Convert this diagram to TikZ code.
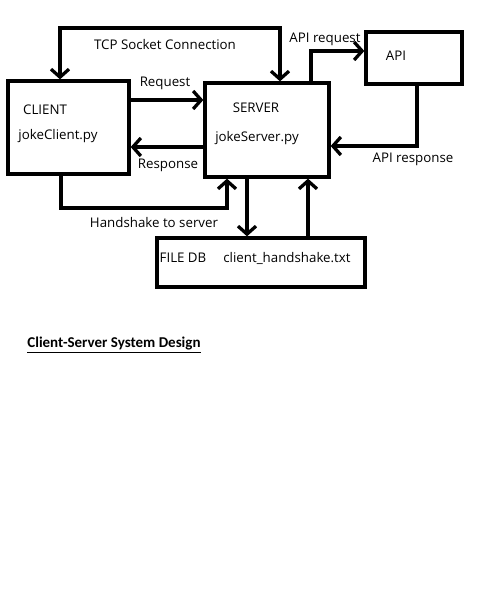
\documentclass[tikz,border=0pt]{standalone}
\usepackage{fontspec}
\setmainfont{Open Sans}
\newfontfamily\titlefont{Carlito}
\usetikzlibrary{arrows.meta}
\tikzset{
  box/.style={draw, line width=3.3pt, inner sep=0pt, rectangle},
  lbl/.style={inner sep=0pt, yshift=-1pt, font=\fontsize{13.3}{15}\selectfont},
  tip/.tip={Straight Barb[length=8pt,width=18pt]},
  arr/.style={line width=3.3pt, -tip},
  darr/.style={line width=3.3pt, tip-tip},
}
\begin{document}
\begin{tikzpicture}[x=1pt,y=-1pt]
\useasboundingbox[fill=white] (0,0) rectangle (480,603);
% boxes
\node[box, minimum width=121pt, minimum height=93pt] (client) at (68.5,127.5) {};
\node[box, minimum width=124pt, minimum height=94pt] (server) at (267,130) {};
\node[box, minimum width=96pt, minimum height=52pt] (api) at (414,58) {};
\node[box, minimum width=208pt, minimum height=49pt] (db) at (261,262.5) {};
% box texts
\node[lbl] (tclient) at (45,109) {CLIENT};
\node[lbl] (tjc) at (58,135) {jokeClient.py};
\node[lbl] (tserver) at (256,107) {SERVER};
\node[lbl] (tjs) at (257,137) {jokeServer.py};
\node[lbl] (tapi) at (396,55) {API};
\node[lbl] (tfdb) at (183,257) {FILE DB};
\node[lbl] (tcht) at (287,257) {client\_handshake.txt};
% coordinates
\coordinate (tcpl) at (60,28);
\coordinate (tcpr) at (280,28);
\coordinate (hsl) at (61,208);
\coordinate (hsr) at (227,208);
\coordinate (reqy) at (0,100);
\coordinate (resy) at (0,147);
\coordinate (sdx) at (247,0);
\coordinate (dsx) at (308,0);
\coordinate (arql) at (311,51);
\coordinate (arqy) at (0,51);
\coordinate (arsr) at (417,146);
% connectors
\draw[darr] (tcpl |- client.north) -- (tcpl) -- (tcpr) -- (tcpr |- server.north);
\draw[arr] (client.east |- reqy) -- (server.west |- reqy);
\draw[arr] (server.west |- resy) -- (client.east |- resy);
\draw[arr] (hsl |- client.south) -- (hsl) -- (hsr) -- (hsr |- server.south);
\draw[arr] (sdx |- server.south) -- (sdx |- db.north);
\draw[arr] (dsx |- db.north) -- (dsx |- server.south);
\draw[arr] (arql |- server.north) -- (arql) -- (api.west |- arqy);
\draw[arr] (arsr |- api.south) -- (arsr) -- (server.east |- arsr);
% connector labels
\node[lbl] (ltcp) at (165,44) {TCP Socket Connection};
\node[lbl] (lreq) at (165,82) {Request};
\node[lbl] (lres) at (168,164) {Response};
\node[lbl] (lhs) at (154,222) {Handshake to server};
\node[lbl] (larq) at (325,38) {API request};
\node[lbl] (lars) at (413,158) {API response};
% title
\node[inner sep=0pt, font=\titlefont\bfseries\fontsize{15}{17}\selectfont] (title) at (114,345) {\underline{Client-Server System Design}};
\end{tikzpicture}
\end{document}
